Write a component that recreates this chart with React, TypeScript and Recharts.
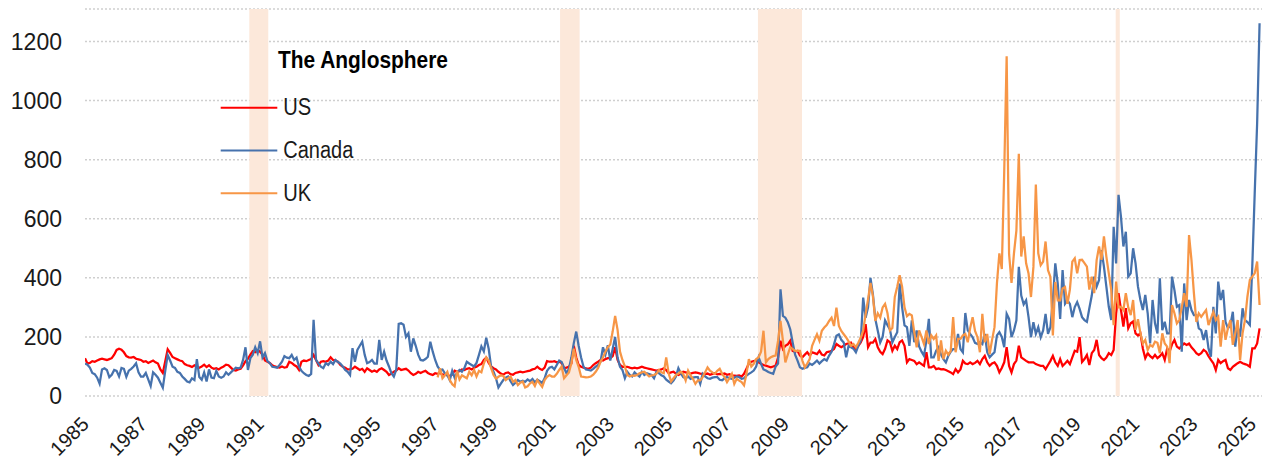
import { LineChart, Line, XAxis, YAxis, CartesianGrid, ReferenceArea } from 'recharts';

const FIRST_YEAR = 1985;

// monthly values, Jan 1985 - Apr 2025
const usValues = [
  128, 110, 112, 118, 116, 120, 124, 126, 124, 122, 125, 128, // 1985
  140, 156, 160, 157, 148, 135, 131, 130, 132, 126, 124, 122,
  116, 118, 112, 116, 120, 114, 110, 90, 78, 118, 158, 146,
  132, 128, 124, 120, 118, 108, 104, 102, 98, 104, 100, 96,
  100, 106, 98, 104, 96, 92, 94, 90, 96, 100, 106, 104,
  96, 88, 86, 90, 92, 104, 118, 126, 140, 152, 148, 155, // 1990
  150, 140, 120, 116, 112, 104, 100, 98, 96, 100, 96, 98,
  116, 112, 105, 100, 88, 116, 120, 118, 122, 125, 139, 122,
  105, 116, 118, 116, 120, 131, 122, 120, 116, 105, 99, 96,
  90, 90, 92, 99, 94, 88, 92, 82, 94, 88, 82, 86,
  82, 90, 94, 88, 82, 71, 76, 82, 86, 94, 88, 90, // 1995
  92, 86, 77, 71, 75, 82, 78, 82, 85, 78, 74, 71,
  77, 75, 78, 72, 74, 70, 68, 72, 86, 82, 84, 90,
  88, 92, 94, 90, 96, 99, 105, 108, 122, 130, 112, 100,
  94, 90, 82, 76, 72, 78, 80, 74, 72, 78, 80, 82,
  80, 82, 84, 86, 90, 92, 99, 92, 88, 96, 118, 116, // 2000
  116, 118, 114, 116, 112, 94, 96, 99, 110, 170, 130, 105,
  99, 96, 94, 92, 96, 105, 111, 116, 122, 120, 125, 128,
  128, 135, 165, 122, 105, 99, 99, 99, 96, 94, 96, 94,
  96, 99, 96, 94, 92, 90, 88, 86, 88, 90, 94, 88,
  77, 80, 82, 76, 71, 75, 82, 80, 78, 76, 78, 80, // 2005
  78, 76, 75, 74, 76, 72, 75, 77, 73, 75, 74, 76,
  72, 74, 70, 69, 68, 70, 66, 75, 92, 110, 116, 118,
  120, 114, 109, 105, 103, 100, 97, 100, 103, 130, 187, 159,
  170, 175, 187, 153, 150, 153, 137, 131, 140, 148, 137, 148,
  145, 142, 153, 140, 137, 148, 150, 153, 159, 176, 170, 165, // 2010
  170, 176, 178, 181, 165, 159, 170, 181, 200, 243, 165, 181,
  181, 193, 165, 150, 142, 160, 188, 182, 153, 170, 159, 182,
  188, 170, 114, 125, 122, 119, 108, 114, 108, 102, 148, 97,
  97, 102, 91, 93, 90, 91, 88, 84, 80, 74, 91, 80,
  90, 119, 110, 108, 114, 108, 112, 119, 108, 125, 136, 114, // 2015
  102, 110, 114, 102, 80, 95, 114, 165, 102, 80, 108, 120,
  170, 131, 125, 119, 114, 114, 114, 108, 105, 102, 102, 91,
  105, 119, 136, 114, 102, 125, 102, 110, 119, 108, 131, 153,
  150, 199, 115, 125, 139, 105, 145, 156, 190, 139, 128, 122,
  130, 145, 139, 156, 280, 348, 292, 235, 297, 229, 246, 252, // 2020
  212, 205, 212, 161, 128, 145, 135, 128, 139, 128, 135, 145,
  122, 161, 150, 175, 190, 167, 161, 170, 178, 173, 178, 165,
  156, 145, 139, 145, 156, 150, 135, 122, 111, 88, 122, 111,
  118, 122, 94, 88, 99, 105, 111, 116, 111, 108, 105, 99,
  161, 161, 178, 229, // 2025
];

const canadaValues = [
  110, 106, 96, 78, 74, 62, 42, 90, 94, 88, 64, 72, // 1985
  88, 85, 66, 95, 92, 65, 86, 92, 100, 111, 80, 66,
  66, 78, 56, 34, 80, 72, 62, 45, 28, 85, 139, 120,
  99, 95, 82, 78, 66, 58, 49, 46, 60, 54, 125, 64,
  55, 80, 49, 90, 62, 60, 85, 66, 62, 66, 80, 72,
  80, 88, 96, 94, 96, 122, 165, 88, 128, 140, 165, 145, // 1990
  185, 130, 145, 118, 111, 99, 98, 96, 105, 116, 135, 130,
  128, 139, 122, 130, 100, 85, 77, 71, 68, 75, 258, 122,
  110, 99, 94, 111, 105, 116, 108, 122, 115, 110, 100, 88,
  82, 71, 162, 116, 156, 170, 184, 140, 111, 115, 122, 110,
  110, 190, 122, 150, 120, 100, 77, 66, 90, 244, 246, 241, // 1995
  200, 212, 150, 195, 170, 140, 122, 120, 125, 133, 184, 150,
  122, 100, 88, 90, 77, 70, 54, 85, 62, 80, 88, 82,
  94, 116, 110, 105, 100, 112, 139, 168, 151, 197, 160, 99,
  82, 60, 29, 42, 54, 62, 66, 50, 37, 45, 54, 48,
  52, 48, 56, 50, 58, 46, 55, 50, 44, 60, 85, 96, // 2000
  99, 90, 105, 120, 115, 95, 77, 92, 130, 179, 218, 170,
  130, 99, 90, 88, 86, 92, 99, 105, 116, 165, 140, 172,
  120, 160, 200, 130, 99, 88, 60, 82, 71, 66, 80, 72,
  66, 82, 71, 77, 74, 71, 60, 82, 77, 70, 66, 55,
  49, 43, 52, 66, 94, 77, 64, 60, 66, 58, 62, 64, // 2005
  64, 41, 75, 66, 60, 58, 62, 64, 64, 55, 53, 60,
  64, 60, 58, 62, 66, 64, 58, 60, 69, 75, 80, 86,
  100, 131, 109, 90, 86, 81, 78, 75, 100, 110, 361, 271,
  265, 250, 226, 181, 140, 120, 97, 92, 95, 97, 110, 105,
  112, 120, 110, 118, 125, 120, 137, 150, 175, 204, 209, 190, // 2010
  181, 131, 170, 165, 160, 148, 170, 187, 333, 265, 300, 400,
  344, 260, 221, 181, 200, 256, 240, 225, 182, 200, 216, 381,
  301, 239, 233, 170, 256, 182, 222, 168, 150, 136, 188, 261,
  131, 131, 153, 165, 140, 125, 114, 136, 150, 159, 159, 210,
  159, 148, 281, 222, 210, 199, 180, 176, 182, 176, 210, 148, // 2015
  131, 140, 148, 205, 216, 200, 165, 278, 261, 199, 222, 256,
  437, 340, 310, 324, 267, 199, 250, 210, 233, 199, 222, 278,
  210, 233, 324, 449, 381, 261, 426, 312, 324, 312, 267, 301,
  318, 295, 267, 257, 251, 297, 340, 404, 370, 393, 494, 438,
  370, 302, 257, 573, 449, 681, 607, 506, 556, 404, 415, 500, // 2020
  449, 370, 325, 291, 342, 280, 178, 325, 246, 212, 398, 223,
  251, 212, 212, 404, 358, 302, 308, 150, 381, 257, 325, 291,
  274, 274, 229, 223, 190, 223, 161, 133, 302, 212, 387, 325,
  359, 251, 229, 240, 285, 167, 234, 201, 297, 257, 250, 240,
  438, 686, 923, 1262, // 2025
];

// UK series starts Feb 1997 (month index 145)
const UK_FIRST_MONTH = 145;
const ukValues = [
  63, 94, 60, 70, 82, 54, 40, 33, 85, 56, 70, // 1997
  65, 60, 82, 70, 88, 66, 85, 80, 110, 131, 120, 94,
  71, 59, 65, 70, 68, 54, 60, 66, 48, 54, 37, 45,
  49, 29, 33, 43, 48, 34, 54, 42, 31, 54, 65, 71, // 2000
  66, 66, 75, 88, 99, 60, 70, 80, 111, 160, 122, 99,
  66, 65, 63, 64, 66, 72, 82, 95, 116, 130, 150, 165,
  174, 219, 271, 224, 150, 122, 100, 71, 66, 70, 68, 71,
  77, 80, 82, 74, 66, 70, 71, 76, 88, 80, 77, 131,
  77, 49, 60, 71, 76, 82, 75, 53, 86, 70, 58, 41, // 2005
  53, 53, 64, 80, 97, 86, 80, 75, 85, 92, 75, 64,
  47, 60, 75, 41, 58, 52, 47, 36, 75, 125, 100, 109,
  125, 131, 150, 221, 114, 125, 131, 135, 137, 187, 254, 187,
  114, 140, 165, 159, 153, 153, 153, 120, 97, 110, 125, 170,
  190, 209, 187, 221, 232, 240, 254, 265, 237, 299, 237, 220, // 2010
  209, 198, 185, 170, 176, 165, 180, 198, 221, 277, 327, 383,
  338, 254, 280, 265, 300, 312, 280, 222, 230, 335, 370, 409,
  370, 300, 270, 278, 273, 216, 165, 222, 200, 176, 222, 176,
  205, 193, 205, 119, 188, 125, 153, 140, 153, 267, 148, 193,
  193, 205, 210, 182, 230, 267, 220, 199, 148, 278, 182, 210, // 2015
  142, 190, 233, 381, 483, 430, 760, 1150, 480, 383, 483, 560,
  820, 472, 540, 449, 415, 335, 437, 716, 483, 443, 455, 523,
  426, 403, 205, 386, 324, 324, 364, 369, 312, 360, 455, 466,
  415, 460, 461, 450, 438, 360, 404, 348, 460, 506, 461, 540,
  472, 415, 359, 240, 387, 300, 302, 291, 348, 300, 274, 325, // 2020
  224, 260, 212, 178, 190, 156, 173, 167, 184, 180, 145, 212,
  178, 167, 111, 308, 280, 246, 257, 300, 348, 302, 545, 460,
  348, 251, 280, 268, 280, 291, 240, 263, 285, 257, 268, 167,
  257, 190, 230, 257, 173, 212, 257, 122, 212, 257, 336, 393,
  404, 415, 455, 308, // 2025
];

const yearTicks = [
  1985, 1987, 1989, 1991, 1993, 1995, 1997, 1999, 2001, 2003, 2005,
  2007, 2009, 2011, 2013, 2015, 2017, 2019, 2021, 2023, 2025,
];
const valueTicks = [0, 200, 400, 600, 800, 1000, 1200];

// recession periods, in decimal years
const recessions: Array<[number, number]> = [
  [1990.63, 1991.28],
  [2001.28, 2001.95],
  [2008.06, 2009.57],
  [2020.32, 2020.46],
];

const series = [
  { key: 'us', name: 'US', color: '#ff0000', labelWidth: 28 },
  { key: 'canada', name: 'Canada', color: '#4672ad', labelWidth: 70 },
  { key: 'uk', name: 'UK', color: '#f79646', labelWidth: 28 },
];

const data = usValues.map((us, i) => ({
  t: FIRST_YEAR + i / 12,
  us,
  canada: canadaValues[i],
  uk: i >= UK_FIRST_MONTH ? ukValues[i - UK_FIRST_MONTH] : null,
}));

const FONT = "'Liberation Sans', Arial, sans-serif";

function YearTick({ x, y, payload }: any) {
  return (
    <g transform={`translate(${x + 5},${y + 29.5})`}>
      <text textAnchor="end" transform="rotate(-45)" fontSize={20} fontFamily={FONT} fill="#1a1a1a">
        {payload.value}
      </text>
    </g>
  );
}

export default function App() {
  return (
    <div style={{ position: 'relative', width: 1262, height: 455 }}>
      <LineChart width={1262} height={455} data={data} margin={{ top: 1, right: 8, left: 0, bottom: 0 }}>
        <CartesianGrid vertical={false} stroke="#cfcfcf" strokeDasharray="2 2" strokeWidth={1.5} />
        <XAxis
          dataKey="t"
          type="number"
          domain={[FIRST_YEAR, 2025 + 4 / 12]}
          ticks={yearTicks}
          interval={0}
          allowDataOverflow
          tick={<YearTick />}
          tickLine={false}
          axisLine={false}
          tickSize={0}
          tickMargin={0}
          height={67}
        />
        <YAxis
          type="number"
          domain={[0, 1310]}
          ticks={valueTicks}
          allowDataOverflow
          width={77}
          tickLine={false}
          axisLine={false}
          tickSize={0}
          tickMargin={23}
          tick={{ fontSize: 23, fill: '#1a1a1a', fontFamily: FONT }}
        />
        {recessions.map(([a, b], i) => (
          <ReferenceArea key={i} x1={a} x2={b} fill="#fce8da" fillOpacity={1} stroke="none" />
        ))}
        {series.map((s) => (
          <Line
            key={s.key}
            dataKey={s.key}
            type="linear"
            stroke={s.color}
            strokeWidth={2.25}
            dot={false}
            activeDot={false}
            isAnimationActive={false}
          />
        ))}
      </LineChart>

      <svg width={1262} height={455} style={{ position: 'absolute', left: 0, top: 0, pointerEvents: 'none' }}>
        <text
          x={270}
          y={59.5}
          fontSize={23}
          fontWeight="bold"
          fontFamily={FONT}
          textLength={170}
          lengthAdjust="spacingAndGlyphs"
          fill="#000"
        >
          The Anglosphere
        </text>
        {series.map((s, i) => {
          const cy = 99.7 + i * 42.8;
          return (
            <g key={s.key}>
              <line x1={212.7} x2={269.3} y1={cy} y2={cy} stroke={s.color} strokeWidth={2} />
              <text
                x={275.3}
                y={cy + 7.7}
                fontSize={23}
                fontFamily={FONT}
                textLength={s.labelWidth}
                lengthAdjust="spacingAndGlyphs"
                fill="#1a1a1a"
              >
                {s.name}
              </text>
            </g>
          );
        })}
      </svg>
    </div>
  );
}
